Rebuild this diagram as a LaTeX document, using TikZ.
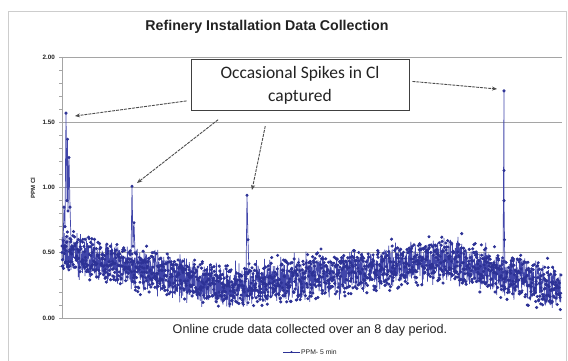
\documentclass[tikz,border=0pt]{standalone}
\usepackage{fontspec}
\setmainfont{Liberation Sans}
\newfontfamily\calfont{Carlito}
\usetikzlibrary{arrows.meta}
\definecolor{dblue}{RGB}{45,50,150}
\definecolor{lblue}{RGB}{65,70,170}
\definecolor{gridc}{RGB}{165,165,165}
\definecolor{framec}{RGB}{205,205,205}
\definecolor{txtc}{RGB}{35,35,35}
\begin{document}
\pgfmathsetseed{7}
\begin{tikzpicture}[x=1pt,y=-1pt,
  declare function={tr(\t)=(\t<230) ? (0.50-0.27*(\t-62)/168) : ((\t<450) ? (0.23+0.22*(\t-230)/220) : (0.45-0.23*(\t-450)/111));},
  gridline/.style={draw=gridc, line width=0.9pt},
  ticklbl/.style={font=\bfseries\fontsize{6.3}{7}\selectfont, text=txtc, anchor=east, inner sep=0pt},
  dataline/.style={draw=lblue, line width=0.7pt, mark=*, mark size=1.2pt, mark options={draw=dblue, fill=dblue}},
  callout/.style={draw=black!75, line width=1pt, fill=white, minimum width=218pt, minimum height=50pt, align=center, font=\calfont\fontsize{17.5}{23}\selectfont, inner sep=0pt, text=txtc},
  pointer/.style={draw=black!70, line width=0.9pt, dash pattern=on 3pt off 1pt, -{Stealth[length=5pt,width=4pt]}}
]
\useasboundingbox (0,0) rectangle (568,361);
\fill[white] (0,0) rectangle (568,361);
\draw[framec, line width=1pt] (8,12) rectangle (566,372);

\node[font=\bfseries\fontsize{14.2}{16}\selectfont, text=txtc] (title) at (267,27) {Refinery Installation Data Collection};

% grid and axes
\foreach \y in {57,122.25,187.5,252.75}
  \draw[gridline] (62,\y) -- (562,\y);
\draw[gridline] (62,318) -- (562,318);
\draw[gridline] (62,57) -- (62,318);
\foreach \k in {0,...,20}
  \draw[draw=gridc, line width=0.6pt] (59,{318-13.05*\k}) -- (62,{318-13.05*\k});

\node[ticklbl] (t200) at (55,57) {2.00};
\node[ticklbl] (t150) at (55,122.25) {1.50};
\node[ticklbl] (t100) at (55,187.5) {1.00};
\node[ticklbl] (t050) at (55,252.75) {0.50};
\node[ticklbl] (t000) at (55,318) {0.00};
\node[font=\bfseries\fontsize{6}{7}\selectfont, text=txtc, rotate=90] (ylab) at (33,188) {PPM Cl};

% data
\draw[dataline] plot[domain=62:561, samples=1600] (\x, {318-130.5*max(0.03, tr(\x)+0.14*rand+0.09*rand*abs(rand))});
\draw[dataline] plot coordinates {(62,246) (63,246.2) (64,207.1) (65,226.6) (66,113.1) (67,200.6) (67.5,139.2) (68,211.0) (69,157.5) (70,207.1) (71,239.7)};
\draw[dataline] plot coordinates {(131,259.3) (132,186.2) (133,246.2) (134,222.7) (135,252.8)};
\draw[dataline] plot coordinates {(246,278.9) (247,195.3) (248,239.7) (249,272.3)};
\draw[dataline] plot coordinates {(503,278.9) (504,90.9) (504,170.5) (504,200.6) (504.5,239.7) (505,278.9)};

% callout
\node[callout] (box) at (300,85) {Occasional Spikes in Cl\\captured};
\coordinate (s1) at (75,116);
\coordinate (s2) at (137,183);
\coordinate (s3) at (252,190);
\coordinate (s4) at (497,89);
\draw[pointer, shorten <=4pt] (box.188) -- (s1);
\draw[pointer, shorten <=15pt] (box.200) -- (s2);
\draw[pointer, shorten <=16pt] (box.219) -- (s3);
\draw[pointer, shorten <=3pt] (box.2) -- (s4);

% caption and legend
\node[font=\fontsize{12.6}{14}\selectfont, text=txtc] (cap) at (310,330) {Online crude data collected over an 8 day period.};
\coordinate (legs) at (283,352);
\node[font=\fontsize{6.8}{7}\selectfont, text=txtc, anchor=west, inner sep=1pt] (leg) at (300,352) {PPM- 5 min};
\draw[draw=dblue, line width=0.7pt] (legs) -- (leg.west);
\fill[dblue] (291.5,352) circle (1.1pt);
\end{tikzpicture}
\end{document}
